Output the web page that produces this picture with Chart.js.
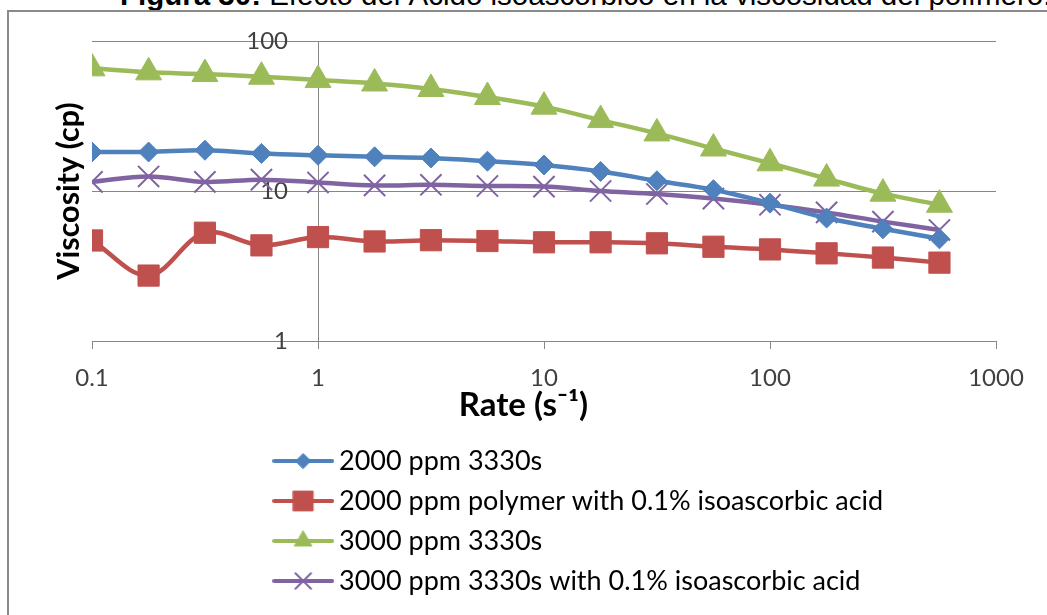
<!DOCTYPE html>
<html><head><meta charset="utf-8">
<script src="https://cdn.jsdelivr.net/npm/chart.js@4.4.1/dist/chart.umd.min.js"></script>
<style>
html,body{margin:0;padding:0;background:#fff;overflow:hidden;width:1047px;height:615px;}
#wrap{position:relative;width:1047px;height:615px;overflow:hidden;background:#fff;}
#frame{position:absolute;left:7px;top:10px;width:1100px;height:700px;border:2px solid #8a8a8a;box-sizing:border-box;pointer-events:none;}
#cap{position:absolute;left:120px;top:-20px;font:29.5px "Liberation Sans",Arial,sans-serif;line-height:29.5px;white-space:nowrap;color:#000;}
canvas{position:absolute;left:0;top:0;}
</style></head>
<body><div id="wrap"><div id="cap"><b>Figura 30:</b> Efecto del Ácido isoascórbico en la viscosidad del polímero.</div><div id="frame"></div><canvas id="c" width="1047" height="615"></canvas></div>
<script>
const rates = [0.1, 0.178, 0.316, 0.562, 1, 1.78, 3.16, 5.62, 10, 17.8, 31.6, 56.2, 100, 178, 316, 562];
const visc2000 = [18.2, 18.2, 18.7, 17.8, 17.3, 16.9, 16.6, 15.8, 14.9, 13.5, 11.7, 10.2, 8.3, 6.6, 5.6, 4.8];
const visc2000Acid = [4.68, 2.73, 5.27, 4.34, 4.93, 4.61, 4.7, 4.64, 4.55, 4.55, 4.48, 4.25, 4.08, 3.84, 3.6, 3.33];
const visc3000 = [65.7, 61.8, 60.2, 57.8, 54.9, 52.1, 47.9, 42.3, 36.5, 29.7, 24.2, 19.2, 15.3, 12.1, 9.6, 8.1];
const visc3000Acid = [11.5, 12.5, 11.5, 11.9, 11.4, 10.9, 11.0, 10.8, 10.7, 10.0, 9.55, 8.9, 8.1, 7.2, 6.25, 5.5];
const seriesNames = ['2000 ppm 3330s', '2000 ppm polymer with 0.1% isoascorbic acid', '3000 ppm 3330s', '3000 ppm 3330s with 0.1% isoascorbic acid'];
const xTickValues = [0.1, 1, 10, 100, 1000];
const xTickLabels = ['0.1', '1', '10', '100', '1000'];
const yTickValues = [1, 10, 100];
const yTickLabels = ['1', '10', '100'];
const xTitle = 'Rate (s\u207B\u00B9)';
const yTitle = 'Viscosity (cp)';

const seriesValues = [visc2000, visc2000Acid, visc3000, visc3000Acid];
const styles = [
  {color: '#4F81BD', point: 'rectRot', r: 10, bw: 1, lr: 7.5},
  {color: '#C0504D', point: 'rect', r: 15, bw: 1, lr: 14},
  {color: '#9BBB59', point: 'triangle', r: 15, bw: 1, lr: 10},
  {color: '#8064A2', point: 'crossRot', r: 15, bw: 2, lr: 11}
];

function makeIcon(st) {
  const cv = document.createElement('canvas');
  cv.width = 62; cv.height = 24;
  const ctx = cv.getContext('2d');
  ctx.strokeStyle = st.color; ctx.lineWidth = 4; ctx.lineCap = 'round';
  ctx.beginPath(); ctx.moveTo(2, 12); ctx.lineTo(60, 12); ctx.stroke();
  ctx.fillStyle = st.color; ctx.strokeStyle = st.color; ctx.lineWidth = st.bw;
  Chart.helpers.drawPoint(ctx, {pointStyle: st.point, radius: st.lr, borderWidth: st.bw, rotation: 0}, 31, 12);
  return cv;
}
const icons = styles.map(makeIcon);

const datasets = seriesValues.map((vals, i) => ({
  label: seriesNames[i],
  data: rates.map((x, j) => ({x: x, y: vals[j]})),
  borderColor: styles[i].color,
  backgroundColor: styles[i].color,
  borderWidth: 4.5,
  tension: 0.35,
  pointStyle: styles[i].point,
  pointRadius: styles[i].r,
  pointHoverRadius: styles[i].r,
  pointBorderWidth: styles[i].bw,
  pointBackgroundColor: styles[i].color,
  pointBorderColor: styles[i].color
}));

const legendPlacer = {
  id: 'legendPlacer',
  afterLayout(chart) {
    const lg = chart.legend;
    if (!lg) return;
    lg.left = 268; lg.top = 434.5; lg.right = 1047; lg.bottom = 615;
    lg.width = lg.right - lg.left; lg.height = lg.bottom - lg.top;
  }
};

const tickFont = {family: 'Lato', size: 24};

new Chart(document.getElementById('c'), {
  type: 'line',
  data: {datasets: datasets},
  options: {
    responsive: false,
    animation: false,
    devicePixelRatio: 1,
    layout: {padding: {left: 0, right: 51, top: 41, bottom: 184}},
    plugins: {
      tooltip: {enabled: false},
      legend: {
        position: 'chartArea',
        align: 'start',
        labels: {
          usePointStyle: true,
          pointStyleWidth: 44.5,
          padding: 13,
          font: {family: 'Lato', size: 27},
          color: '#000',
          generateLabels(chart) {
            return chart.data.datasets.map((ds, i) => ({
              text: ds.label, pointStyle: icons[i], fillStyle: ds.borderColor,
              strokeStyle: ds.borderColor, lineWidth: 0, hidden: false,
              datasetIndex: i, fontColor: '#000'
            }));
          }
        }
      }
    },
    scales: {
      x: {
        type: 'logarithmic', min: 0.1, max: 1000, position: 'bottom',
        afterBuildTicks: s => { s.ticks = xTickValues.map(v => ({value: v})); },
        afterFit: s => { s.height = 90; },
        grid: {drawOnChartArea: false, drawTicks: true, tickLength: 8, color: '#868686', lineWidth: 1},
        border: {color: '#868686', width: 1},
        ticks: {padding: 15, color: '#404040', font: tickFont, maxRotation: 0, autoSkip: false,
          callback: (v, i) => xTickLabels[i]},
        title: {display: true, text: xTitle + '\u2003\u2002', font: {family: 'Lato', size: 33, weight: 'bold'},
          color: '#000', padding: {top: 0, bottom: 6}}
      },
      y: {
        type: 'logarithmic', min: 1, max: 100, position: {x: 1},
        afterBuildTicks: s => { s.ticks = yTickValues.map(v => ({value: v})); },
        grid: {color: '#868686', drawTicks: false, lineWidth: 1},
        border: {color: '#868686', width: 1},
        ticks: {padding: 0, color: '#404040', font: tickFont,
          callback: (v, i) => yTickLabels[i] + '\u2003\u2002'}
      },
      yTitleAxis: {
        type: 'linear', position: 'left', display: true,
        afterFit: s => { s.width = 92; },
        grid: {display: false, drawTicks: false},
        border: {display: false},
        ticks: {display: false},
        title: {display: true, text: yTitle, font: {family: 'Lato', size: 30.5, weight: 'bold'},
          color: '#000', padding: {top: 51, bottom: 0}}
      }
    }
  },
  plugins: [legendPlacer]
});
</script>
</body></html>
